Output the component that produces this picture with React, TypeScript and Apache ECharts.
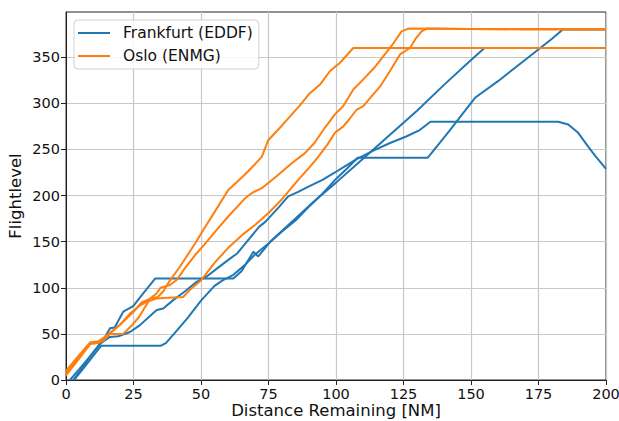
import React, { useEffect, useRef } from "react";
import * as echarts from "echarts";

// Distance remaining [NM], flight level
const fraA: number[][] = [[2.7,0],[6,13],[9,26],[12.6,39.5],[16.3,46.7],[19.4,47.5],[23.7,52],[27.4,59.5],[31,69],[33.6,75.8],[36,77.6],[39.7,86.6],[44,96],[48.4,106.5],[52,112],[56,121],[60,130],[63.5,137.5],[67,150],[71.5,166],[74,172],[76.2,179],[79,188],[82.3,199],[86,204],[90,210],[95,217],[99.6,225],[104,233],[108,240],[114,249],[120,257],[126,264],[131,271],[135,280],[160,280],[182.3,280],[186,277],[189.7,268],[193.4,253],[196,243],[200,229]];
const fraB: number[][] = [[1.5,0],[5,12],[9,26],[13.8,43],[16.3,56],[18,57],[21.2,74],[24.9,80],[28.6,94],[33,110],[45,110],[62,110],[65,118],[69.4,139],[71.2,134],[76,151],[85,175],[92,194],[100,214],[110,240],[120,266],[130,292],[140,320],[150,347],[155,360],[200,360]];
const fraC: number[][] = [[3,0],[6,11],[10,26],[13,37],[20,37],[35,37],[37,40],[40,50],[45,67],[50,86],[55,102],[58,108],[62,114],[66,124],[70,136],[75,148],[80,161],[85,173],[90,188],[95,202],[100,218],[104,229],[107,238],[108,241],[120,241],[134,241],[137,252],[142,270],[147,289],[151.5,306],[160,324],[170,347],[180,370],[184,380],[200,380]];
const oslA: number[][] = [[0,10],[4,24],[9,41],[12,42],[15,48],[20,60],[25,74],[28,84],[31,88],[34,90],[36,96],[38.5,108],[42,122],[47.8,148],[50.9,163],[55,182],[60.1,206],[66,222],[70,234],[72.5,242],[74.9,260],[80,276],[86.7,298],[90,310],[94,320],[97.8,335],[101.5,344],[106.4,360],[120,360],[150,360],[200,360]];
const oslB: number[][] = [[0,7],[4,22],[9,40],[12,41],[16,50],[20,60],[23.7,72],[27,80],[29.9,85],[33.6,94],[35,100],[38.5,103],[41,108.4],[44,121],[47.8,135.5],[51,146],[55.8,162.7],[60,177],[66.3,197],[69,203],[72.5,208],[78,221],[83.6,235],[88.5,246],[92,257],[96,274],[99.6,288],[102.7,297],[106.4,315],[110.1,326],[114,338],[117.5,351],[121,364],[124.3,378],[126.8,381],[150,380.5],[200,380.5]];
const oslC: number[][] = [[0,5],[4,20],[9,39],[12,40],[14,43],[16.3,50],[21.2,50],[24.3,59],[27,68],[28.6,76],[30.5,85],[33,88],[36,89],[43.4,90],[46,98],[50,108],[55,127],[60,143],[66,159],[70,168],[75,181],[80,196],[86,217],[90,230],[93.4,242],[97,256],[99.6,268],[102.7,275],[105,283],[107.6,293],[110.1,297],[113,307],[116.3,318],[120,335],[123.7,353],[127.4,360],[129.5,370],[131.7,378],[133.6,381],[170,380],[200,380]];

const xTicks = [0, 25, 50, 75, 100, 125, 150, 175, 200];
const yTicks = [0, 50, 100, 150, 200, 250, 300, 350];
const seriesNames = ["Frankfurt (EDDF)", "Oslo (ENMG)"];
const flights = [
  { name: seriesNames[0], data: fraA },
  { name: seriesNames[0], data: fraB },
  { name: seriesNames[0], data: fraC },
  { name: seriesNames[1], data: oslA },
  { name: seriesNames[1], data: oslB },
  { name: seriesNames[1], data: oslC },
];
const colors: Record<string, string> = {
  "Frankfurt (EDDF)": "#1f77b4",
  "Oslo (ENMG)": "#ff7f0e",
};

const FONT = "DejaVu Sans";

export default function App() {
  const ref = useRef<HTMLDivElement>(null);
  useEffect(() => {
    const chart = echarts.init(ref.current!, undefined, { renderer: "svg" });
    chart.setOption({
      animation: false,
      backgroundColor: "#fff",
      grid: {
        left: 66,
        right: 13,
        top: 12,
        bottom: 41,
        outerBoundsMode: "none",
        containLabel: false,
        show: true,
        borderColor: "#222",
        borderWidth: 1,
        backgroundColor: "transparent",
      },
      legend: {
        data: seriesNames,
        orient: "vertical",
        left: 74,
        top: 20,
        icon: "rect",
        itemWidth: 32,
        itemHeight: 2,
        itemGap: 5,
        padding: [4, 6, 4, 4],
        backgroundColor: "rgba(255,255,255,0.85)",
        borderColor: "#d0d0d0",
        borderWidth: 1,
        borderRadius: 4,
        textStyle: {
          fontFamily: FONT,
          fontSize: 15.5,
          color: "#111",
          lineHeight: 18,
          padding: [0, 0, 0, 8],
        },
      },
      xAxis: {
        type: "value",
        min: 0,
        max: 200,
        interval: 25,
        name: "Distance Remaining [NM]",
        nameLocation: "middle",
        nameGap: 21,
        nameMoveOverlap: false,
        nameTextStyle: { fontFamily: FONT, fontSize: 16.5, color: "#111", lineHeight: 18 },
        axisLine: { show: true, lineStyle: { color: "#222", width: 1 } },
        axisTick: { show: true, length: 5, lineStyle: { color: "#222" }, customValues: xTicks },
        axisLabel: { fontFamily: FONT, fontSize: 14.5, color: "#111", margin: 6, customValues: xTicks },
        splitLine: { show: true, lineStyle: { color: "#c8c8c8", width: 1.2 } },
      },
      yAxis: {
        type: "value",
        min: 0,
        max: 399,
        interval: 50,
        name: "Flightlevel",
        nameLocation: "middle",
        nameGap: 42,
        nameMoveOverlap: false,
        nameTextStyle: { fontFamily: FONT, fontSize: 16.5, color: "#111" },
        axisLine: { show: true, lineStyle: { color: "#222", width: 1 } },
        axisTick: { show: true, length: 5, lineStyle: { color: "#222" }, customValues: yTicks },
        axisLabel: {
          fontFamily: FONT,
          fontSize: 14.5,
          color: "#111",
          margin: 6,
          customValues: yTicks,
          formatter: (v: number) => (v % 50 === 0 ? String(v) : ""),
        },
        splitLine: { show: true, lineStyle: { color: "#c8c8c8", width: 1.2 } },
      },
      series: flights.map((f) => ({
        type: "line",
        name: f.name,
        data: f.data,
        symbol: "none",
        showSymbol: false,
        clip: true,
        lineStyle: { color: colors[f.name], width: 2 },
        itemStyle: { color: colors[f.name] },
      })),
    });
    return () => chart.dispose();
  }, []);
  return <div ref={ref} style={{ width: 619, height: 421, position: "absolute", left: 0, top: 0 }} />;
}
